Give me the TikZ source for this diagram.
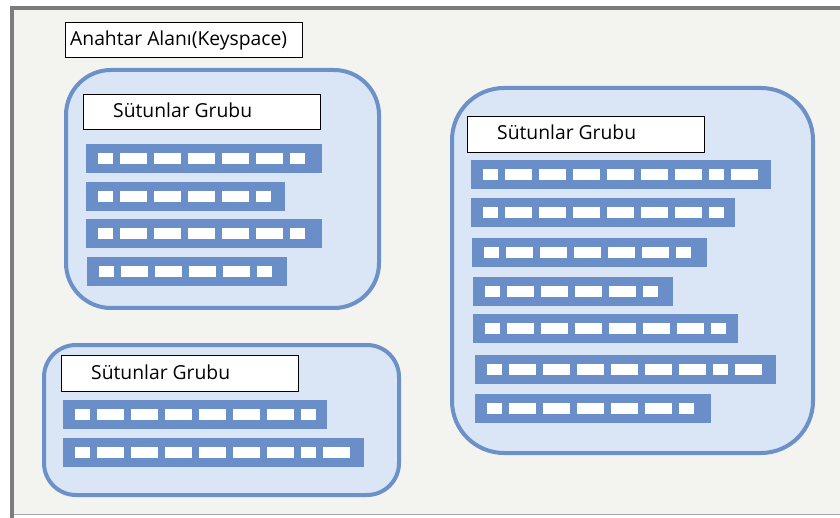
\documentclass[tikz,border=0pt]{standalone}
\usepackage{fontspec}
\setmainfont{Open Sans}
\definecolor{pagebg}{HTML}{F3F3EF}
\definecolor{framegray}{HTML}{7C7C7C}
\definecolor{groupfill}{HTML}{DAE5F6}
\definecolor{groupline}{HTML}{6C90C8}
\definecolor{barblue}{HTML}{6A8EC8}
\tikzset{
  x=1pt, y=-1pt,
  groupbox/.style={draw=groupline, line width=4pt, fill=groupfill},
  titlebox/.style={draw=black, line width=1.1pt, fill=white},
  titletext/.style={anchor=base west, inner sep=0pt, font=\fontsize{19.3}{22}\selectfont, text=black},
  barbox/.style={fill=barblue, inner sep=0pt, minimum height=29pt, anchor=north west},
  cellbox/.style={fill=white}
}
% a column row: name, x, y (top), width, macro holding the cell widths
\newcommand\colrow[5]{%
  \node[barbox, minimum width=#4pt] (#1) at (#2,#3) {};
  \foreach \w [remember=\nx as \cx (initially 12)] in #5 {%
    \pgfmathsetmacro\nx{\cx+\w+7}
    \fill[cellbox] ([xshift=\cx pt, yshift=5.5pt]#1.west) rectangle ++(\w,11);
  }%
}
\def\seven{15,27,27,27,27,27,15}
\def\six{15,27,27,27,27,15}
\def\eight{15,27,27,27,27,27,27,15}
\def\nine{15,27,27,27,27,27,27,15,27}
\begin{document}
\begin{tikzpicture}
  \useasboundingbox (0,0) rectangle (840,518);
  \fill[white] (0,0) rectangle (840,518);
  % keyspace frame
  \fill[pagebg] (12,8) rectangle (840,515);
  \draw[framegray!70, line width=1.5pt] (12,514.5) -- (840,514.5);
  \draw[framegray, line width=4pt] (12,518) -- (12,8) -- (840,8);

  \node[titlebox, minimum width=237pt, minimum height=35pt, anchor=north west, inner sep=0pt] (ks) at (65,22) {};
  \node[titletext] (kstext) at (70,46) {Anahtar Alanı(Keyspace)};

  % column family groups
  \draw[groupbox, rounded corners=45pt] (66,70) rectangle (379,308);
  \draw[groupbox, rounded corners=32pt] (44,345) rectangle (399,495);
  \draw[groupbox, rounded corners=52pt] (452,88) rectangle (813,453);

  % group titles
  \node[titlebox, minimum width=237pt, minimum height=35pt, anchor=north west, inner sep=0pt] (t1) at (83,94) {};
  \node[titletext] (t1text) at (113,118) {Sütunlar Grubu};
  \node[titlebox, minimum width=237pt, minimum height=36pt, anchor=north west, inner sep=0pt] (t2) at (61,355) {};
  \node[titletext] (t2text) at (91,379) {Sütunlar Grubu};
  \node[titlebox, minimum width=237pt, minimum height=36pt, anchor=north west, inner sep=0pt] (t3) at (467,116) {};
  \node[titletext] (t3text) at (497,140) {Sütunlar Grubu};

  % rows of the first group
  \colrow{ra}{86}{144}{236}{\seven}
  \colrow{rb}{86}{182}{199}{\six}
  \colrow{rc}{86}{219}{236}{\seven}
  \colrow{rd}{87}{257}{200}{\six}

  % rows of the second group
  \colrow{re}{63}{400}{264}{\eight}
  \colrow{rf}{63}{438}{301}{\nine}

  % rows of the third group
  \colrow{rg}{471}{160}{300}{\nine}
  \colrow{rh}{471}{198}{264}{\eight}
  \colrow{ri}{472}{238}{235}{\seven}
  \colrow{rj}{473}{277}{200}{\six}
  \colrow{rk}{473}{314}{265}{\eight}
  \colrow{rl}{475}{355}{301}{\nine}
  \colrow{rm}{475}{394}{236}{\seven}
\end{tikzpicture}
\end{document}
